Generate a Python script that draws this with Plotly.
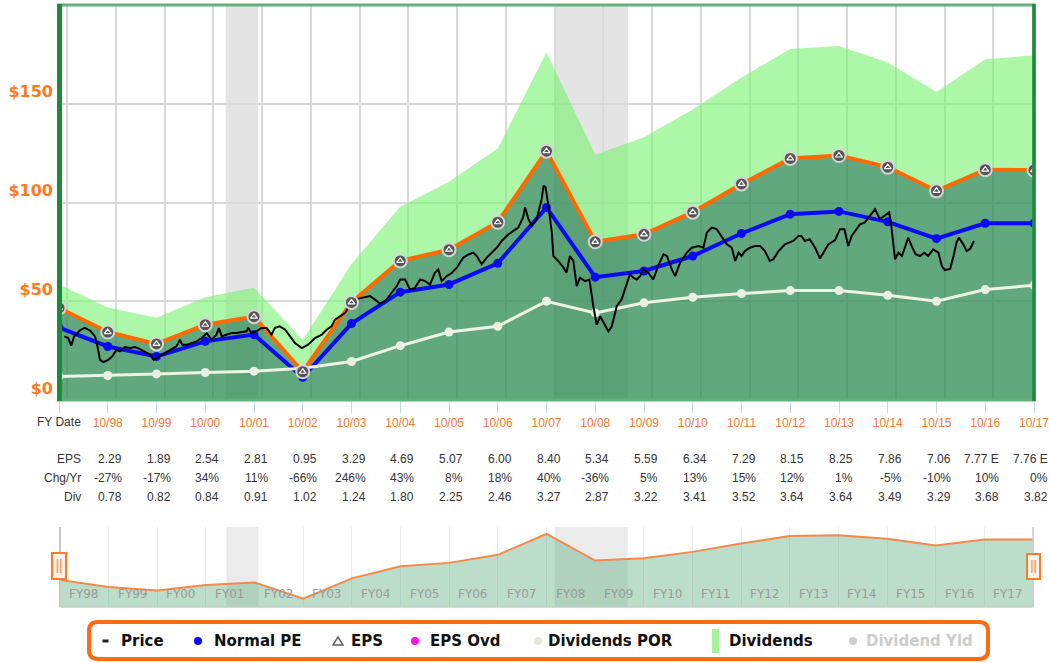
import plotly.graph_objects as go

W, H = 1049, 663
FIG_W = 1064  # the page is captured slightly wider than the picture, then fitted to 1049

# fiscal year ends (10/97 ... 10/17)
fy = list(range(1997, 2018))
fy_labels = ["", "10/98", "10/99", "10/00", "10/01", "10/02", "10/03", "10/04", "10/05", "10/06",
             "10/07", "10/08", "10/09", "10/10", "10/11", "10/12", "10/13", "10/14", "10/15", "10/16", "10/17"]

# values, one per fiscal year
eps_line = [46.6, 34.4, 28.4, 38.1, 42.2, 14.3, 49.4, 70.4, 76.1, 90.0, 126.0,
            80.1, 83.9, 95.1, 109.4, 122.3, 123.8, 117.9, 105.9, 116.6, 116.4]
normal_pe = [36.6, 27.1, 22.0, 29.7, 33.1, 11.5, 38.7, 54.6, 58.5, 69.2, 97.5,
             62.2, 65.3, 72.9, 84.3, 94.1, 95.5, 90.2, 81.7, 89.5, 89.5]
div_line = [11.9, 12.4, 13.2, 13.9, 14.6, 16.1, 19.5, 27.5, 34.4, 37.3, 50.0,
            44.1, 49.2, 52.0, 53.9, 55.4, 55.4, 53.0, 50.0, 55.9, 58.1]

# table under the chart
table_years = list(range(1998, 2018))
eps_row = ["2.29", "1.89", "2.54", "2.81", "0.95", "3.29", "4.69", "5.07", "6.00", "8.40",
           "5.34", "5.59", "6.34", "7.29", "8.15", "8.25", "7.86", "7.06", "7.77 E", "7.76 E"]
chg_row = ["-27%", "-17%", "34%", "11%", "-66%", "246%", "43%", "8%", "18%", "40%",
           "-36%", "5%", "13%", "15%", "12%", "1%", "-5%", "-10%", "10%", "0%"]
div_row = ["0.78", "0.82", "0.84", "0.91", "1.02", "1.24", "1.80", "2.25", "2.46", "3.27",
           "2.87", "3.22", "3.41", "3.52", "3.64", "3.64", "3.49", "3.29", "3.68", "3.82"]

# monthly-ish price trace (time in fiscal-year units)
price_t = [1997.11, 1997.19, 1997.25, 1997.31, 1997.43, 1997.53, 1997.64, 1997.74, 1997.79, 1997.84,
           1997.91, 1998.01, 1998.09, 1998.18, 1998.25, 1998.35, 1998.46, 1998.56, 1998.66, 1998.76,
           1998.87, 1998.94, 1999.00, 1999.11, 1999.21, 1999.31, 1999.41, 1999.48, 1999.53, 1999.62,
           1999.72, 1999.82, 1999.93, 2000.03, 2000.13, 2000.23, 2000.28, 2000.34, 2000.44, 2000.54,
           2000.64, 2000.75, 2000.85, 2000.88, 2000.95, 2001.05, 2001.16, 2001.26, 2001.36, 2001.43,
           2001.53, 2001.64, 2001.74, 2001.84,
           2001.98, 2002.11, 2002.25, 2002.39, 2002.49, 2002.59, 2002.66, 2002.76, 2002.87, 2002.97,
           2003.07, 2003.21, 2003.38, 2003.48, 2003.58, 2003.69, 2003.82, 2003.93, 2004.00, 2004.10,
           2004.20, 2004.30, 2004.41, 2004.51, 2004.61, 2004.71, 2004.78, 2004.85, 2004.95, 2005.06,
           2005.16, 2005.23, 2005.29, 2005.40, 2005.50, 2005.57, 2005.67, 2005.77, 2005.88, 2005.98,
           2006.08, 2006.22, 2006.32, 2006.42, 2006.52, 2006.56, 2006.63, 2006.70, 2006.80, 2006.90,
           2006.94, 2006.98, 2007.04, 2007.11, 2007.14, 2007.24, 2007.35, 2007.41, 2007.48, 2007.55,
           2007.62, 2007.69, 2007.79, 2007.88, 2007.96, 2008.03, 2008.10, 2008.17, 2008.27, 2008.34,
           2008.44, 2008.54, 2008.65, 2008.71, 2008.78, 2008.85, 2008.92, 2008.99, 2009.09, 2009.19,
           2009.29, 2009.40, 2009.47, 2009.57, 2009.64, 2009.74, 2009.88, 2009.98, 2010.12, 2010.22,
           2010.29, 2010.39, 2010.49, 2010.59, 2010.70, 2010.80, 2010.87, 2010.94, 2011.00, 2011.07,
           2011.17, 2011.28, 2011.38, 2011.48, 2011.58, 2011.65, 2011.76, 2011.89,
           2011.99, 2012.06, 2012.17, 2012.23, 2012.30, 2012.40, 2012.51, 2012.61, 2012.68, 2012.78,
           2012.92, 2013.02, 2013.11, 2013.19, 2013.26, 2013.36, 2013.43, 2013.53, 2013.64, 2013.74,
           2013.84, 2013.94, 2014.03, 2014.08, 2014.15, 2014.22, 2014.29, 2014.35, 2014.42, 2014.49,
           2014.57, 2014.66, 2014.75, 2014.83, 2014.93, 2015.04, 2015.11, 2015.17, 2015.28, 2015.35,
           2015.41, 2015.46, 2015.55, 2015.62, 2015.69, 2015.77]
price_v = [32.2, 31.4, 27.5, 32.2, 35.3, 36.5, 35.1, 32.2, 27.1, 20.3,
           19.2, 20.3, 22.0, 25.4, 24.6, 26.8, 26.3, 26.8, 25.8, 24.6,
           22.9, 20.3, 21.2, 22.9, 24.6, 25.8, 27.1, 30.5, 28.0, 28.0,
           28.8, 29.7, 31.4, 33.9, 30.5, 33.1, 36.4, 32.2, 33.1, 33.9,
           33.9, 34.2, 34.8, 36.5, 33.9, 34.8, 36.5, 36.5, 33.1, 36.5,
           37.3, 35.6, 32.2, 28.8,
           26.3, 28.0, 31.4, 33.1, 35.6, 37.3, 40.7, 42.4, 44.1, 48.3,
           50.9, 51.7, 52.6, 50.9, 48.8, 50.0, 54.3, 57.7, 61.0, 61.0,
           55.9, 56.8, 61.0, 60.2, 58.5, 64.4, 66.1, 60.2, 62.7, 64.4,
           67.0, 69.5, 72.0, 73.7, 74.6, 72.9, 68.7, 72.0, 74.6, 77.1,
           80.5, 83.9, 85.6, 87.3, 92.4, 97.5, 91.6, 88.2, 91.6, 101.7,
           108.5, 107.7, 98.3, 84.8, 72.9, 70.4, 67.0, 64.4, 72.9, 70.4,
           57.6, 61.9, 60.2, 61.0, 47.5, 38.1, 42.4, 39.0, 34.8, 37.3,
           47.5, 50.9, 58.5, 63.6, 61.9, 61.0, 62.7, 66.1, 64.4, 61.0,
           67.8, 73.8, 72.9, 66.1, 62.7, 69.5, 74.6, 77.1, 78.0, 77.1,
           84.8, 87.3, 86.5, 83.1, 78.8, 77.1, 70.4, 74.6, 72.9, 75.4,
           77.1, 78.0, 78.0, 75.4, 70.4, 71.2, 75.4, 78.8,
           79.7, 80.5, 83.1, 83.1, 80.5, 81.4, 77.1, 71.6, 74.6, 78.8,
           81.0, 86.5, 86.5, 78.0, 83.1, 86.5, 89.0, 89.9, 93.3, 96.6,
           91.6, 93.3, 95.0, 86.5, 71.2, 74.6, 72.9, 77.1, 82.2, 78.0,
           73.8, 72.9, 74.6, 72.9, 76.3, 74.6, 67.8, 65.8, 66.4, 72.9,
           79.7, 82.2, 78.8, 75.4, 76.6, 80.5]

recessions = [(2000.42, 2001.08), (2007.17, 2008.67)]
nav_labels = ["FY98", "FY99", "FY00", "FY01", "FY02", "FY03", "FY04", "FY05", "FY06", "FY07",
              "FY08", "FY09", "FY10", "FY11", "FY12", "FY13", "FY14", "FY15", "FY16", "FY17"]


# picture pixel -> paper fraction
def px(x):
    return x / W


def py(y):
    return min(1.0, max(0.0, 1 - y / H))


PLOT_TOP = 5          # top of the plotting area (px)
PLOT_BOT = 400        # $0 line
y_top = 200

fig = go.Figure()

# stacked areas: EPS-justified (dark) + dividends on top (light)
fig.add_trace(go.Scatter(x=fy, y=eps_line, stackgroup="a", mode="none",
                         fillcolor="rgba(46,139,83,0.75)", hoverinfo="skip"))
fig.add_trace(go.Scatter(x=fy, y=div_line, stackgroup="a", mode="none",
                         fillcolor="rgba(117,242,110,0.6)", hoverinfo="skip"))

fig.add_trace(go.Scatter(x=fy, y=eps_line, mode="lines", line=dict(color="#ff6a00", width=4)))
fig.add_trace(go.Scatter(x=fy, y=normal_pe, mode="lines+markers", line=dict(color="#0a0af5", width=4),
                         marker=dict(color="#0a0af5", size=9)))
fig.add_trace(go.Scatter(x=fy, y=div_line, mode="lines+markers", line=dict(color="#eef3e6", width=3),
                         marker=dict(color="#e9f0e2", size=9)))
fig.add_trace(go.Scatter(x=price_t, y=price_v, mode="lines", line=dict(color="#000000", width=2)))
# EPS icons
fig.add_trace(go.Scatter(x=fy, y=eps_line, mode="markers",
                         marker=dict(symbol="circle", size=13, color="#555555",
                                     line=dict(color="#d4d4d4", width=2))))
fig.add_trace(go.Scatter(x=fy, y=eps_line, mode="markers",
                         marker=dict(symbol="triangle-up-open", size=6, color="white",
                                     line=dict(color="white", width=1.2))))

# navigator
fig.add_trace(go.Scatter(x=fy, y=eps_line, xaxis="x2", yaxis="y2", mode="lines", fill="tozeroy",
                         fillcolor="rgba(90,170,125,0.4)", line=dict(color="#f28a4c", width=2)))

grid_x = [y + 0.167 for y in range(1997, 2017)]

fig.update_layout(
    width=FIG_W, height=H, margin=dict(l=0, r=0, t=0, b=0),
    paper_bgcolor="white", plot_bgcolor="white", showlegend=False,
    xaxis=dict(domain=[px(59), px(1034)], range=[1997, 2017], tickmode="array", tickvals=fy,
               ticktext=fy_labels, ticks="outside", ticklen=12, tickcolor="#c6d6e6", tickwidth=1,
               tickfont=dict(family="Liberation Sans", size=12, color="#f5772f"),
               ticklabeloverflow="allow",
               showgrid=False, zeroline=False, showline=False,
               minor=dict(tickmode="array", tickvals=grid_x, showgrid=True, gridcolor="#d9d9d9",
                          gridwidth=2, ticks="")),
    yaxis=dict(domain=[py(PLOT_BOT), py(PLOT_TOP)], range=[0, y_top], tickmode="array",
               tickvals=[0, 50, 100, 150], ticktext=["$0", "$50", "$100", "$150"],
               tickfont=dict(family="DejaVu Sans", size=16, color="#ff7a1f", weight="bold"),
               ticklabelshift=-12, ticklabelstandoff=5, ticks="", ticklabeloverflow="allow",
               showgrid=True, gridcolor="#d9d9d9", gridwidth=2, zeroline=False, showline=False),
    xaxis2=dict(domain=[px(60), px(1033)], range=[1997, 2017], anchor="y2", tickmode="array",
                tickvals=fy, showticklabels=False, showgrid=True, gridcolor="#ececec", gridwidth=1,
                zeroline=False, ticks=""),
    yaxis2=dict(domain=[py(607), py(527)], range=[0, 138], anchor="x2", showticklabels=False,
                showgrid=False, zeroline=False),
)

shapes = []
for a, b in recessions:
    shapes.append(dict(type="rect", xref="x", yref="y domain", x0=a, x1=b, y0=0, y1=1,
                       fillcolor="#e4e4e4", line=dict(width=0), layer="below"))
    shapes.append(dict(type="rect", xref="x2", yref="y2 domain", x0=a, x1=b, y0=0, y1=1,
                       fillcolor="#ebebeb", line=dict(width=0), layer="below"))

# plot frame
shapes.append(dict(type="rect", xref="paper", yref="paper", x0=px(59), x1=px(1034),
                   y0=py(PLOT_BOT), y1=py(PLOT_TOP), line=dict(color="#62b07d", width=3)))
shapes.append(dict(type="line", xref="paper", yref="paper", x0=px(59.5), x1=px(59.5),
                   y0=py(PLOT_BOT + 1), y1=py(PLOT_TOP - 1), line=dict(color="#1b8a3b", width=5)))
shapes.append(dict(type="line", xref="paper", yref="paper", x0=px(1034), x1=px(1034),
                   y0=py(PLOT_BOT + 1), y1=py(PLOT_TOP - 1), line=dict(color="#1b8a3b", width=3.5)))

# navigator frame
gray = "#c8c8c8"
shapes.append(dict(type="line", xref="paper", yref="paper", x0=px(60), x1=px(60), y0=py(607), y1=py(527),
                   line=dict(color=gray, width=2)))
shapes.append(dict(type="line", xref="paper", yref="paper", x0=px(60), x1=px(1033), y0=py(607), y1=py(607),
                   line=dict(color=gray, width=1.5)))
shapes.append(dict(type="line", xref="paper", yref="paper", x0=px(1033), x1=px(1033), y0=py(607), y1=py(527),
                   line=dict(color=gray, width=1.5)))
# navigator handles
for hx0, hx1, hy0, hy1 in [(52, 66, 553, 579), (1027, 1040, 554, 579)]:
    shapes.append(dict(type="rect", xref="paper", yref="paper", x0=px(hx0), x1=px(hx1), y0=py(hy1), y1=py(hy0),
                       fillcolor="#fff4ec", line=dict(color="#ff7a2a", width=2)))
    mid = (hx0 + hx1) / 2
    for dx in (-1.6, 1.6):
        shapes.append(dict(type="line", xref="paper", yref="paper", x0=px(mid + dx), x1=px(mid + dx),
                           y0=py(hy1 - 6), y1=py(hy0 + 6), line=dict(color="#ff9a5a", width=1.5)))


# legend box (rounded)
def pt(x, y):
    return f"{px(x):.5f},{py(y):.5f}"


lx0, lx1, ly0, ly1, r = 89, 988, 622, 659, 9
path = ("M " + pt(lx0 + r, ly0) + " L " + pt(lx1 - r, ly0) + " Q " + pt(lx1, ly0) + " " + pt(lx1, ly0 + r) +
        " L " + pt(lx1, ly1 - r) + " Q " + pt(lx1, ly1) + " " + pt(lx1 - r, ly1) +
        " L " + pt(lx0 + r, ly1) + " Q " + pt(lx0, ly1) + " " + pt(lx0, ly1 - r) +
        " L " + pt(lx0, ly0 + r) + " Q " + pt(lx0, ly0) + " " + pt(lx0 + r, ly0) + " Z")
shapes.append(dict(type="path", xref="paper", yref="paper", path=path, fillcolor="white",
                   line=dict(color="#ff6a13", width=4)))

ly = 641
shapes.append(dict(type="line", xref="paper", yref="paper", x0=px(102.5), x1=px(108.5), y0=py(ly), y1=py(ly),
                   line=dict(color="#222", width=3)))
for cx, col in [(198, "#0a0af5"), (415, "#ff10f0"), (538, "#dfeadb"), (853, "#cfcfcf")]:
    shapes.append(dict(type="circle", xref="paper", yref="paper", x0=px(cx - 4), x1=px(cx + 4),
                       y0=py(ly + 4), y1=py(ly - 4), fillcolor=col, line=dict(width=0)))
shapes.append(dict(type="path", xref="paper", yref="paper",
                   path="M " + pt(333, ly + 4) + " L " + pt(338, ly - 4) + " L " + pt(343, ly + 4) + " Z",
                   line=dict(color="#666", width=1.5)))
shapes.append(dict(type="rect", xref="paper", yref="paper", x0=px(712), x1=px(719), y0=py(ly + 12),
                   y1=py(ly - 12), fillcolor="#a6f2a0", line=dict(width=0)))
fig.update_layout(shapes=shapes)

ann = []
tfont = dict(family="Liberation Sans", size=12, color="#333333")
rows = [("FY Date", 422, None), ("EPS", 459, eps_row), ("Chg/Yr", 478, chg_row), ("Div", 497, div_row)]
for label, ry, vals in rows:
    ann.append(dict(text=label, xref="paper", yref="paper", x=px(83), y=py(ry), xanchor="right",
                    yanchor="middle", showarrow=False, font=tfont))
    if vals is None:
        continue
    for yr, v in zip(table_years, vals):
        ann.append(dict(text=v, xref="x", yref="paper", x=yr, y=py(ry), xanchor="right", xshift=16,
                        yanchor="middle", showarrow=False, font=tfont))

for i, lab in enumerate(nav_labels):
    ann.append(dict(text=lab, xref="x2", yref="paper", x=fy[i], y=py(594), xanchor="left", xshift=7,
                    yanchor="middle", showarrow=False,
                    font=dict(family="DejaVu Sans", size=12, color="#9a9a9a")))

for lx, text, col in [(119, "Price", "#111"), (212, "Normal PE", "#111"), (349, "EPS", "#111"),
                      (428, "EPS Ovd", "#111"), (546, "Dividends POR", "#111"), (727, "Dividends", "#111"),
                      (864, "Dividend Yld", "#cccccc")]:
    ann.append(dict(text="<b>" + text + "</b>", xref="paper", yref="paper", x=px(lx), y=py(ly),
                    xanchor="left", yanchor="middle", showarrow=False,
                    font=dict(family="DejaVu Sans", size=15, color=col)))

fig.update_layout(annotations=ann)

# drop the default body margin so the figure sits at the window's top-left corner
fig.write_html("out.html", config={"displayModeBar": False},
               post_script="document.body.style.margin='0';document.body.style.overflow='hidden';")
